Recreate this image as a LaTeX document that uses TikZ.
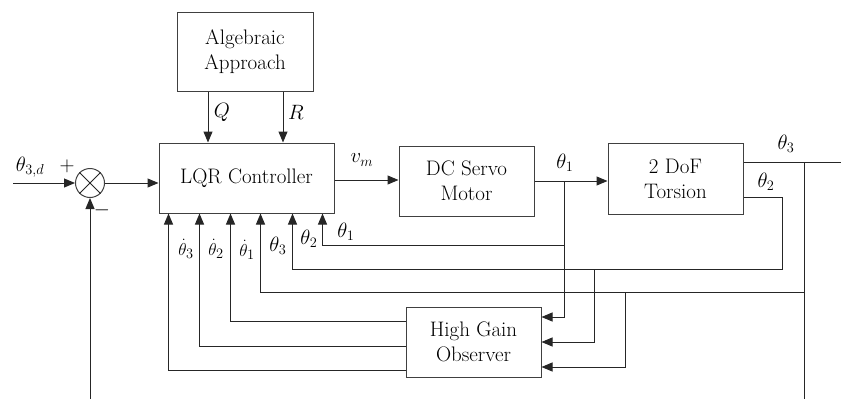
\documentclass[tikz,border=0pt]{standalone}
\usetikzlibrary{arrows.meta}
\tikzset{block/.style={draw=black!75,line width=1pt,inner sep=0pt,align=center,font=\fontsize{21}{25}\selectfont},sig/.style={line width=1pt,draw=black!85,-{Triangle[length=11pt,width=9pt]}},wire/.style={line width=1pt,draw=black!85},lbl/.style={inner sep=0pt,font=\fontsize{21}{24}\selectfont}}

\begin{document}
\begin{tikzpicture}[x=1pt,y=-1pt]
\path[use as bounding box] (0,0) rectangle (841,399);
\node[block,minimum width=136pt,minimum height=79pt] (alg) at (245,51.5) {Algebraic\\Approach};
\node[block,minimum width=175pt,minimum height=70pt] (lqr) at (246.5,178) {LQR Controller};
\node[block,minimum width=135pt,minimum height=70pt] (dc) at (466.5,181) {DC Servo\\Motor};
\node[block,minimum width=135pt,minimum height=71pt] (tor) at (675.5,178.5) {2 DoF\\Torsion};
\node[block,minimum width=135pt,minimum height=70pt] (hgo) at (473.5,342) {High Gain\\Observer};
\node[draw=black!75,line width=1pt,circle,minimum size=29pt,inner sep=0pt] (sum) at (90,183) {};
\draw[wire] (sum.45) -- (sum.225) (sum.135) -- (sum.315);
\coordinate (in) at (13,183);
\coordinate (fb) at (90,399);
\coordinate (b1) at (564,181);
\coordinate (c2) at (782,269);
\coordinate (b2) at (594,269);
\coordinate (b3) at (804,162);
\coordinate (c3) at (804,292);
\coordinate (b4) at (625,292);
\coordinate (out) at (852,162);
\coordinate (gnd) at (804,399);
\foreach \n/\dx in {1/10,2/41,3/72,4/102,5/134,6/164}
  \coordinate (lq\n) at ([xshift=\dx pt]lqr.south west);
\draw[sig] (in) -- (sum.west);
\draw[sig] (fb) -- (sum.south);
\draw[sig] (sum.east) -- (sum.east -| lqr.west);
\draw[sig] ([xshift=-37pt]alg.south) -- ([xshift=-37pt]alg.south |- lqr.north);
\draw[sig] ([xshift=38pt]alg.south) -- ([xshift=38pt]alg.south |- lqr.north);
\draw[sig] ([yshift=-2pt]lqr.east) -- ([yshift=-2pt]lqr.east -| dc.west);
\draw[sig] (dc.east) -- (dc.east -| tor.west);
\draw[sig] (b1) |- ([yshift=-32pt]lq6) -- (lq6);
\draw[sig] (b1) |- ([yshift=25pt]hgo.east);
\draw[sig] ([yshift=-18.5pt]tor.east) -| (c2) -| (lq5);
\draw[sig] (b2) |- (hgo.east);
\draw[sig] ([yshift=16.5pt]tor.east) -- (out);
\draw[wire] (b3) -- (gnd);
\draw[sig] (c3) -| (lq4);
\draw[sig] (b4) |- ([yshift=-25pt]hgo.east);
\draw[sig] ([yshift=21pt]hgo.west) -| (lq3);
\draw[sig] ([yshift=-4pt]hgo.west) -| (lq2);
\draw[sig] ([yshift=-28pt]hgo.west) -| (lq1);
% labels
\node[lbl] (lref) at (30,167) {$\theta_{3,d}$};
\node[lbl] (lplus) at (67,166) {$+$};
\node[lbl] (lminus) at (102,210) {$-$};
\node[lbl] (lq) at (222,112) {$Q$};
\node[lbl] (lr) at (296,112) {$R$};
\node[lbl] (lvm) at (362,160) {$v_m$};
\node[lbl] (lt1) at (565,163) {$\theta_1$};
\node[lbl] (lt3) at (786,144) {$\theta_3$};
\node[lbl] (lt2) at (766,182) {$\theta_2$};
\node[lbl,font=\fontsize{19}{22}\selectfont] (ld3) at (186,249) {$\dot\theta_3$};
\node[lbl,font=\fontsize{19}{22}\selectfont] (ld2) at (216,249) {$\dot\theta_2$};
\node[lbl,font=\fontsize{19}{22}\selectfont] (ld1) at (247,250) {$\dot\theta_1$};
\node[lbl] (lb3) at (278,246) {$\theta_3$};
\node[lbl] (lb2) at (309,239) {$\theta_2$};
\node[lbl] (lb1) at (346,232) {$\theta_1$};
\end{tikzpicture}
\end{document}
